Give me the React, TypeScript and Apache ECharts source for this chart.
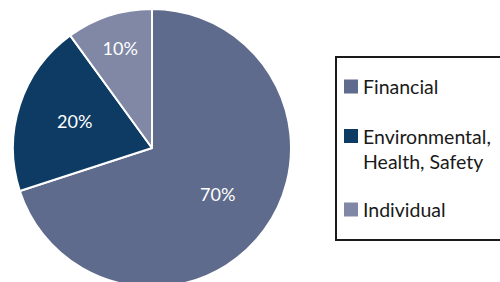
import React, { useEffect, useRef } from "react";
import * as echarts from "echarts";

const categories = ["Financial", "Environmental,\nHealth, Safety", "Individual"];
const values = [70, 20, 10];
const colors = ["#5E6B8C", "#0E3B64", "#8088A6"];
// radial position of each slice label, as a fraction of the radius
const labelRadiusRatio = [0.56, 0.56, 0.71];

const FONT = "Lato, 'Open Sans', sans-serif";

export default function App() {
  const ref = useRef<HTMLDivElement>(null);
  useEffect(() => {
    if (!ref.current) return;
    const chart = echarts.init(ref.current, null, { renderer: "svg" });
    const cx = 152;
    const cy = 148;
    const R = 139;
    const legendTops = [86.5 - 12.5, 136 - 37.5, 209.5 - 12.5];
    const legends = categories.map((name, i) => ({
      show: true,
      orient: "vertical",
      left: 344,
      top: legendTops[i],
      padding: 0,
      itemWidth: 14,
      itemHeight: 14,
      icon: "rect",
      selectedMode: false,
      itemStyle: { borderWidth: 0 },
      data: [name],
      formatter: i === 1 ? (n: string) => "\n" + n : "{name}",
      textStyle: {
        fontFamily: FONT,
        fontSize: 19.5,
        color: "#1a1a1a",
        lineHeight: 25,
      },
    }));
    chart.setOption({
      animation: false,
      color: colors,
      graphic: [
        {
          type: "rect",
          shape: { x: 336, y: 57, width: 200, height: 183 },
          style: { fill: "none", stroke: "#1a1a1a", lineWidth: 2 },
          z: 0,
        },
      ],
      legend: legends,
      series: [
        {
          type: "pie",
          center: [cx, cy],
          radius: [0, R],
          startAngle: 90,
          clockwise: true,
          itemStyle: { borderColor: "#ffffff", borderWidth: 2 },
          label: {
            show: true,
            position: "inside",
            formatter: "{c}%",
            color: "#ffffff",
            fontFamily: FONT,
            fontSize: 18,
          },
          labelLine: { show: false },
          emphasis: { disabled: true },
          labelLayout: (params: any) => {
            const r = params.labelRect;
            const lx = r.x + r.width / 2;
            const ly = r.y + r.height / 2;
            const f = labelRadiusRatio[params.dataIndex] / 0.5;
            return { dx: (lx - cx) * (f - 1), dy: (ly - cy) * (f - 1) - 2 };
          },
          data: categories.map((name, i) => ({ name, value: values[i] })),
        },
      ],
    });
    return () => chart.dispose();
  }, []);
  return (
    <div
      ref={ref}
      style={{ position: "fixed", left: 0, top: 0, width: 500, height: 282, background: "#fff" }}
    />
  );
}
